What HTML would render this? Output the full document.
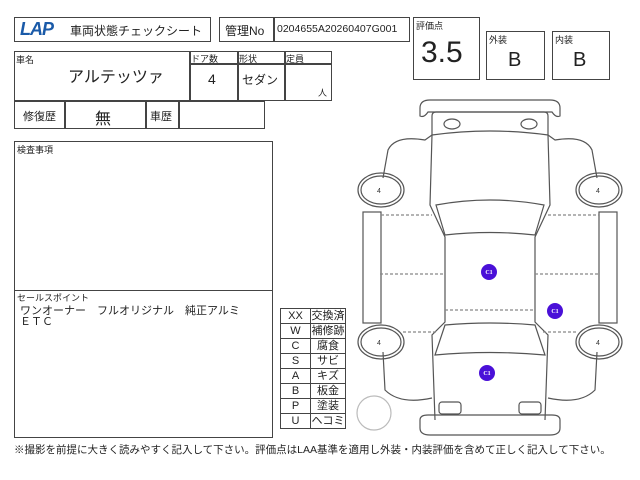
<!DOCTYPE html>
<html><head><meta charset="utf-8"><style>
body{margin:0;background:#fff;width:640px;height:480px;position:relative;overflow:hidden;font-family:"Liberation Sans","Noto Sans CJK JP",sans-serif;color:#222}
.b{position:absolute;border:1px solid #444;box-sizing:border-box}
.t{position:absolute;white-space:nowrap}
td{border:1px solid #444;padding:0;text-align:center;height:14px}td:first-child{width:29px}td:last-child{width:34px}
</style></head><body>
<div class="b" style="left:14px;top:17px;width:197px;height:25px"></div>
<div class="t" style="left:20px;top:19px;font:italic bold 18px 'Liberation Sans',sans-serif;color:#1a5aa8;letter-spacing:-1px">LAP</div>
<div class="t" style="left:70px;top:22px;font-size:12px">車両状態チェックシート</div>
<div class="b" style="left:219px;top:17px;width:191px;height:25px"></div>
<div class="b" style="left:273px;top:17px;width:1px;height:25px"></div>
<div class="t" style="left:225px;top:22px;font-size:12px">管理No</div>
<div class="t" style="left:277px;top:23px;font-size:10.5px">0204655A20260407G001</div>
<div class="b" style="left:413px;top:17px;width:67px;height:63px"></div>
<div class="t" style="left:416px;top:19px;font-size:9px">評価点</div>
<div class="t" style="left:421px;top:36px;font-size:30px">3.5</div>
<div class="b" style="left:486px;top:31px;width:59px;height:49px"></div>
<div class="t" style="left:489px;top:33px;font-size:9px">外装</div>
<div class="t" style="left:508px;top:49px;font-size:20px">B</div>
<div class="b" style="left:552px;top:31px;width:58px;height:49px"></div>
<div class="t" style="left:555px;top:33px;font-size:9px">内装</div>
<div class="t" style="left:573px;top:49px;font-size:20px">B</div>

<div class="b" style="left:14px;top:51px;width:318px;height:50px"></div>
<div class="t" style="left:16px;top:53px;font-size:9px">車名</div>
<div class="t" style="left:68px;top:63px;font-size:16px">アルテッツァ</div>
<div class="b" style="left:189px;top:51px;width:1px;height:50px"></div>
<div class="b" style="left:237px;top:51px;width:1px;height:50px"></div>
<div class="b" style="left:284px;top:51px;width:1px;height:50px"></div>
<div class="b" style="left:189px;top:63px;width:143px;height:1px"></div>
<div class="t" style="left:191px;top:52px;font-size:9px">ドア数</div>
<div class="t" style="left:239px;top:52px;font-size:9px">形状</div>
<div class="t" style="left:286px;top:52px;font-size:9px">定員</div>
<div class="t" style="left:208px;top:71px;font-size:14px">4</div>
<div class="t" style="left:242px;top:71px;font-size:12px">セダン</div>
<div class="t" style="left:318px;top:86px;font-size:9px">人</div>

<div class="b" style="left:14px;top:101px;width:251px;height:28px"></div>
<div class="b" style="left:64px;top:101px;width:1px;height:28px"></div>
<div class="b" style="left:145px;top:101px;width:1px;height:28px"></div>
<div class="b" style="left:178px;top:101px;width:1px;height:28px"></div>
<div class="t" style="left:23px;top:108px;font-size:11px">修復歴</div>
<div class="t" style="left:95px;top:105px;font-size:16px">無</div>
<div class="t" style="left:150px;top:108px;font-size:11px">車歴</div>

<div class="b" style="left:14px;top:141px;width:259px;height:150px"></div>
<div class="t" style="left:17px;top:143px;font-size:9px">検査事項</div>
<div class="b" style="left:14px;top:290px;width:259px;height:148px"></div>
<div class="t" style="left:17px;top:291px;font-size:9px">セールスポイント</div>
<div class="t" style="left:20px;top:306px;font-size:11px;line-height:11px">ワンオーナー　フルオリジナル　純正アルミ<br>ＥＴＣ</div>

<div style="position:absolute;left:280px;top:308px">
<table style="border-collapse:collapse;font-size:11px;line-height:14px">
<tr><td>XX</td><td>交換済</td></tr><tr><td>W</td><td>補修跡</td></tr><tr><td>C</td><td>腐食</td></tr><tr><td>S</td><td>サビ</td></tr><tr><td>A</td><td>キズ</td></tr><tr><td>B</td><td>板金</td></tr><tr><td>P</td><td>塗装</td></tr><tr><td>U</td><td>ヘコミ</td></tr>
</table></div>

<div class="t" style="left:14px;top:442px;font-size:10.5px">※撮影を前提に大きく読みやすく記入して下さい。評価点はLAA基準を適用し外装・内装評価を含めて正しく記入して下さい。</div>

<svg style="position:absolute;left:0;top:0" width="640" height="480" fill="none" stroke="#555" stroke-width="1.2">
<path d="M420 116 V108 Q420 100 430 100 H550 Q560 100 560 108 V116 Q556 118 552 112 H428 Q424 118 420 116Z"/>
<path d="M432 135 V116 Q432 112 436 112 H544 Q548 112 548 116 V135"/>
<ellipse cx="452" cy="124" rx="8" ry="5"/><ellipse cx="529" cy="124" rx="8" ry="5"/>
<path d="M432 135 Q490 127 548 135"/>
<path d="M432 135 L430 205 L445 237 V322 L432 335 L435 420 M548 135 L550 205 L535 237 V322 L548 335 L545 420"/>
<path d="M436 205 Q490 195 544 205 L535 235 Q490 230 445 235Z"/>
<path d="M445 325 Q490 321 535 325 L545 355 Q490 350 435 355Z"/>
<path d="M432 135 L425 140 Q395 135 388 150 L383 178 M548 135 L555 140 Q585 135 592 150 L597 178"/>
<path d="M383 352 L385 390 Q400 405 432 398 M597 352 L595 390 Q580 405 548 398"/>
<path d="M420 428 V420 Q420 415 428 415 H552 Q560 415 560 420 V428 Q560 435 550 435 H430 Q420 435 420 428Z"/>
<rect x="439" y="402" width="22" height="12" rx="3"/><rect x="519" y="402" width="22" height="12" rx="3"/>
<rect x="363" y="212" width="18" height="111"/><rect x="599" y="212" width="18" height="111"/>
<g stroke-dasharray="3,2" stroke="#888">
<path d="M381 215 H432 M548 215 H599 M380 274 H445 M535 274 H600 M445 310 H535 M403 332 H437 M543 332 H578"/>
</g>
<g>
<ellipse cx="381" cy="190" rx="23" ry="17"/><ellipse cx="381" cy="190" rx="20" ry="14"/>
<ellipse cx="599" cy="190" rx="23" ry="17"/><ellipse cx="599" cy="190" rx="20" ry="14"/>
<ellipse cx="381" cy="342" rx="23" ry="17"/><ellipse cx="381" cy="342" rx="20" ry="14"/>
<ellipse cx="599" cy="342" rx="23" ry="17"/><ellipse cx="599" cy="342" rx="20" ry="14"/>
</g>
<circle cx="374" cy="413" r="17" stroke="#bbb"/>
<g fill="#4a10d8" stroke="none"><circle cx="489" cy="272" r="8"/><circle cx="555" cy="311" r="8"/><circle cx="487" cy="373" r="8"/></g>
<g font-size="6" fill="#fff" stroke="none" text-anchor="middle" font-family="Liberation Serif,serif" font-weight="bold">
<text x="489" y="274">C1</text><text x="555" y="313">C1</text><text x="487" y="375">C1</text></g>
<g font-size="7" fill="#333" stroke="none" text-anchor="middle"><text x="379" y="193">4</text><text x="598" y="193">4</text><text x="379" y="345">4</text><text x="598" y="345">4</text></g>
</svg>
</body></html>
